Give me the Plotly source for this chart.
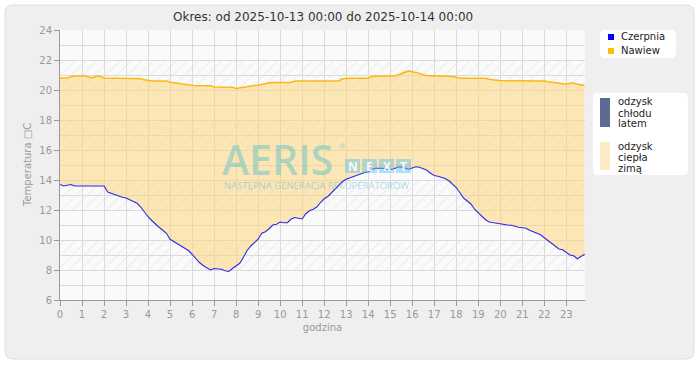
import plotly.graph_objects as go

# ---------------- data ----------------
hours = [i / 6 for i in range(144)]  # 10-minute samples, 00:00 .. 23:50

czerpnia = [
    13.7, 13.6, 13.65, 13.7, 13.6, 13.6, 13.6, 13.6, 13.6, 13.6, 13.6, 13.6,
    13.6, 13.2, 13.1, 13.0, 12.95, 12.85, 12.8, 12.7, 12.6, 12.45, 12.2, 11.85,
    11.55, 11.3, 11.05, 10.85, 10.65, 10.45, 10.05, 9.9, 9.75, 9.65, 9.5, 9.3,
    9.05, 8.75, 8.5, 8.3, 8.15, 8.0, 8.1, 8.1, 8.05, 7.95, 7.9, 8.1,
    8.25, 8.45, 8.85, 9.3, 9.6, 9.8, 10.05, 10.45, 10.55, 10.75, 11.0, 11.05,
    11.2, 11.15, 11.15, 11.4, 11.5, 11.45, 11.4, 11.75, 11.95, 12.05, 12.2, 12.5,
    12.75, 12.9, 13.15, 13.45, 13.7, 13.9, 14.05, 14.15, 14.25, 14.35, 14.4, 14.5,
    14.55, 14.7, 14.78, 14.78, 14.78, 14.72, 14.7, 14.75, 14.85, 14.88, 14.8, 14.72,
    14.8, 14.88, 14.85, 14.75, 14.65, 14.45, 14.3, 14.25, 14.2, 14.1, 13.95, 13.75,
    13.5, 13.15, 12.8, 12.6, 12.4, 12.05, 11.8, 11.55, 11.35, 11.2, 11.15, 11.1,
    11.1, 11.05, 11.0, 10.98, 10.9, 10.85, 10.82, 10.78, 10.65, 10.55, 10.45, 10.35,
    10.15, 9.95, 9.75, 9.55, 9.4, 9.35, 9.15, 9.0, 8.95, 8.75, 8.9, 9.05,
]

nawiew = [
    20.8, 20.78, 20.8, 20.9, 20.93, 20.93, 20.93, 20.93, 20.85, 20.82, 20.93, 20.9,
    20.8, 20.78, 20.78, 20.78, 20.78, 20.78, 20.78, 20.78, 20.78, 20.78, 20.75, 20.68,
    20.62, 20.6, 20.6, 20.6, 20.6, 20.6, 20.52, 20.47, 20.44, 20.42, 20.38, 20.33,
    20.31, 20.28, 20.28, 20.28, 20.28, 20.28, 20.2, 20.18, 20.18, 20.18, 20.18, 20.18,
    20.1, 20.15, 20.2, 20.22, 20.25, 20.3, 20.32, 20.38, 20.42, 20.48, 20.5, 20.5,
    20.5, 20.5, 20.5, 20.5, 20.6, 20.6, 20.6, 20.6, 20.6, 20.6, 20.6, 20.6,
    20.6, 20.6, 20.6, 20.6, 20.6, 20.75, 20.78, 20.78, 20.78, 20.78, 20.78, 20.78,
    20.78, 20.9, 20.93, 20.93, 20.93, 20.93, 20.93, 20.93, 21.0, 21.08, 21.15, 21.27,
    21.22, 21.18, 21.1, 21.02, 20.95, 20.95, 20.95, 20.95, 20.95, 20.95, 20.95, 20.9,
    20.85, 20.78, 20.78, 20.78, 20.78, 20.78, 20.78, 20.78, 20.78, 20.72, 20.67, 20.67,
    20.62, 20.62, 20.62, 20.62, 20.62, 20.62, 20.62, 20.62, 20.62, 20.62, 20.62, 20.62,
    20.6, 20.55, 20.5, 20.48, 20.45, 20.42, 20.4, 20.45, 20.47, 20.38, 20.33, 20.3,
]

x_ticks = list(range(24))
y_ticks = list(range(6, 25, 2))
hatch_bands = [8, 12, 16, 20]

title_text = "Okres: od 2025-10-13 00:00 do 2025-10-14 00:00"
series_names = ["Czerpnia", "Nawiew"]
series_colors = ["#0000ff", "#ffc000"]
area_labels = [["odzysk", "chłodu", "latem"], ["odzysk", "ciepła", "zimą"]]

# ---------------- layout helpers ----------------
W, H = 700, 380
L, R, T, B = 60, 115, 30, 80
PW, PH = W - L - R, H - T - B
X_MAX = 23.85
FONT = "DejaVu Sans"


def px(x):
    return (x - L) / PW


def py(y):
    return (H - B - y) / PH


def rrect(x0, y0, x1, y1, r):
    pts = [
        f"M {px(x0 + r)} {py(y0)}",
        f"L {px(x1 - r)} {py(y0)}",
        f"Q {px(x1)} {py(y0)} {px(x1)} {py(y0 + r)}",
        f"L {px(x1)} {py(y1 - r)}",
        f"Q {px(x1)} {py(y1)} {px(x1 - r)} {py(y1)}",
        f"L {px(x0 + r)} {py(y1)}",
        f"Q {px(x0)} {py(y1)} {px(x0)} {py(y1 - r)}",
        f"L {px(x0)} {py(y0 + r)}",
        f"Q {px(x0)} {py(y0)} {px(x0 + r)} {py(y0)}",
        "Z",
    ]
    return " ".join(pts)


fig = go.Figure()

# hatched horizontal bands
fig.add_trace(go.Bar(
    x=[X_MAX / 2] * len(hatch_bands), y=[2] * len(hatch_bands), base=hatch_bands,
    width=[X_MAX] * len(hatch_bands),
    marker=dict(color="rgba(0,0,0,0)", line=dict(width=0),
                pattern=dict(shape="/", fgcolor="#e2e2e2", size=8, solidity=0.1,
                             fillmode="replace")),
    hoverinfo="skip", showlegend=False,
))

# filled area between the two series
fig.add_trace(go.Scatter(x=hours, y=czerpnia, mode="lines", line=dict(width=0),
                         hoverinfo="skip", showlegend=False))
fig.add_trace(go.Scatter(x=hours, y=nawiew, mode="lines", line=dict(width=0),
                         fill="tonexty", fillcolor="rgba(255,214,123,0.55)",
                         hoverinfo="skip", showlegend=False))

# lines
fig.add_trace(go.Scatter(x=hours, y=czerpnia, mode="lines", name=series_names[0],
                         line=dict(color="#2a2ae8", width=1.1), showlegend=False))
fig.add_trace(go.Scatter(x=hours, y=nawiew, mode="lines", name=series_names[1],
                         line=dict(color="#fbb917", width=1.6), showlegend=False))

shapes = [
    dict(type="path", path=rrect(5, 5, 694, 359, 8), xref="paper", yref="paper",
         fillcolor="#efefef", line=dict(color="#dedede", width=1), layer="below"),
    dict(type="rect", x0=0, x1=1, y0=0, y1=1, xref="paper", yref="paper",
         fillcolor="#fafafa", line=dict(width=0), layer="below"),
    # legend box 1
    dict(type="path", path=rrect(600, 30, 676, 58, 5), xref="paper", yref="paper",
         fillcolor="white", line=dict(width=0)),
    dict(type="rect", x0=px(608), x1=px(614), y0=py(40), y1=py(34), xref="paper", yref="paper",
         fillcolor=series_colors[0], line=dict(width=0)),
    dict(type="rect", x0=px(608), x1=px(614), y0=py(54), y1=py(48), xref="paper", yref="paper",
         fillcolor=series_colors[1], line=dict(width=0)),
    # legend box 2
    dict(type="path", path=rrect(593, 93, 688, 175, 5), xref="paper", yref="paper",
         fillcolor="white", line=dict(width=0)),
    dict(type="rect", x0=px(600), x1=px(610), y0=py(127), y1=py(98), xref="paper", yref="paper",
         fillcolor="#5c6b92", line=dict(width=0)),
    dict(type="rect", x0=px(600), x1=px(610), y0=py(170), y1=py(142), xref="paper", yref="paper",
         fillcolor="#fdebc6", line=dict(width=0)),
]
# NEXT boxes of the watermark
next_x = [345, 362, 379, 396]
for bx in next_x:
    shapes.append(dict(type="rect", x0=px(bx), x1=px(bx + 15), y0=py(173), y1=py(159),
                       xref="paper", yref="paper", fillcolor="rgba(90,190,230,0.45)",
                       line=dict(width=0)))

annotations = [
    dict(text=title_text, x=0.5, y=py(17), xref="paper", yref="paper", showarrow=False,
         xanchor="center", yanchor="middle", font=dict(family=FONT, size=12, color="#333333")),
    dict(text="Temperatura □C", x=px(27), y=py(165), xref="paper", yref="paper",
         showarrow=False, textangle=-90, xanchor="center", yanchor="middle",
         font=dict(family=FONT, size=10, color="#999999")),
    dict(text=series_names[0], x=px(619), y=py(37), xref="paper", yref="paper", showarrow=False,
         xanchor="left", yanchor="middle", font=dict(family=FONT, size=10, color="#222222")),
    dict(text=series_names[1], x=px(619), y=py(51), xref="paper", yref="paper", showarrow=False,
         xanchor="left", yanchor="middle", font=dict(family=FONT, size=10, color="#222222")),
    # watermark
    dict(text="AERIS", x=px(220), y=py(159), xref="paper", yref="paper", showarrow=False,
         xanchor="left", yanchor="middle", height=34, valign="middle",
         font=dict(family="Open Sans", size=41, weight=600, color="rgba(95,195,200,0.5)")),
    dict(text="®", x=px(342), y=py(145), xref="paper", yref="paper", showarrow=False,
         xanchor="center", yanchor="middle",
         font=dict(family="Open Sans", size=8, color="rgba(95,195,215,0.5)")),
    dict(text="NASTĘPNA GENERACJA REKUPERATORÓW", x=px(222), y=py(185), xref="paper",
         yref="paper", showarrow=False, xanchor="left", yanchor="middle",
         font=dict(family="Open Sans", size=9.5, color="rgba(100,190,215,0.55)")),
]
label_rows = [[101, 113, 124], [146, 157, 168]]
for lines, rows in zip(area_labels, label_rows):
    for txt, yy in zip(lines, rows):
        annotations.append(dict(text=txt, x=px(616), y=py(yy), xref="paper", yref="paper",
                                showarrow=False, xanchor="left", yanchor="middle",
                                font=dict(family=FONT, size=10, color="#222222")))
for bx, letter in zip(next_x, "NEXT"):
    annotations.append(dict(text=letter, x=px(bx + 7.5), y=py(166), xref="paper", yref="paper",
                            showarrow=False, xanchor="center", yanchor="middle",
                            font=dict(family="Open Sans", size=12, weight=700,
                                      color="rgba(255,255,255,0.9)")))

fig.update_layout(
    width=W, height=H,
    margin=dict(l=L, r=R, t=T, b=B, pad=0),
    paper_bgcolor="white", plot_bgcolor="#fafafa",
    barmode="overlay", bargap=0,
    hovermode=False,
    showlegend=False,
    shapes=shapes, annotations=annotations,
    xaxis=dict(range=[0, X_MAX], tickvals=x_ticks, ticks="outside", ticklen=5,
               tickcolor="#999999", showline=True, linecolor="#999999", linewidth=1,
               showgrid=True, gridcolor="#dadada", gridwidth=1, zeroline=False,
               tickfont=dict(family=FONT, size=10, color="#999999"),
               title=dict(text="godzina", font=dict(family=FONT, size=10, color="#999999"),
                          standoff=4)),
    yaxis=dict(range=[6, 24], tickvals=y_ticks, ticks="outside", ticklen=5,
               tickcolor="#999999", showline=True, linecolor="#999999", linewidth=1,
               showgrid=True, gridcolor="#dadada", gridwidth=1, zeroline=False,
               minor=dict(dtick=1, showgrid=True, gridcolor="#dadada", ticks=""),
               tickfont=dict(family=FONT, size=10, color="#999999")),
)

fig.write_html("out.html", config={"displayModeBar": False},
               post_script="document.body.style.margin='0';")
